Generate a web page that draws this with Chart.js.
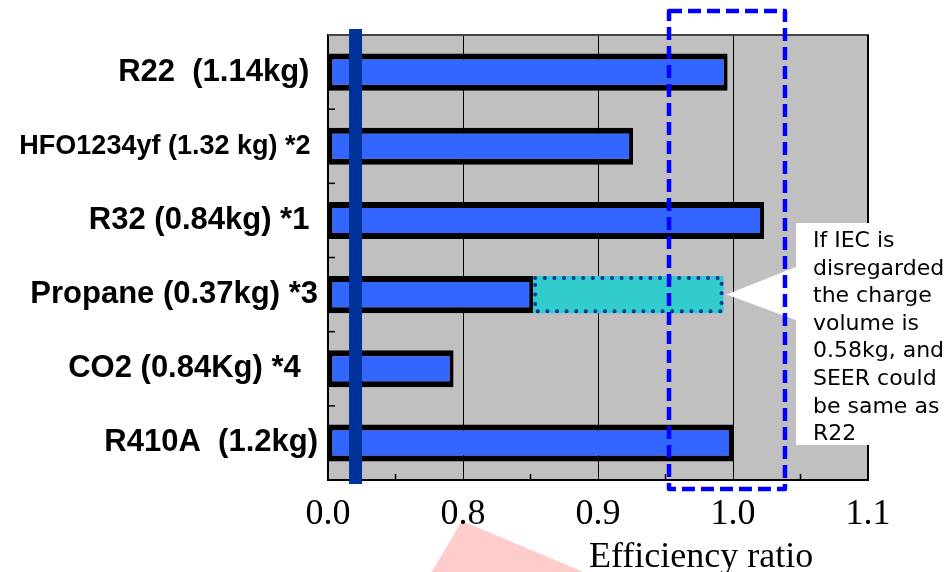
<!DOCTYPE html>
<html>
<head>
<meta charset="utf-8">
<script src="https://cdn.jsdelivr.net/npm/chart.js@4.4.1/dist/chart.umd.min.js"></script>
<style>
  html, body { margin: 0; padding: 0; background: #fff; }
  canvas { display: block; }
</style>
</head>
<body>
<canvas id="myChart" width="951" height="572"></canvas>
<script>
// refrigerants (trailing spaces keep the original right-edge offsets)
const refrigerants = [
    'R22  (1.14kg) ',
    'HFO1234yf (1.32 kg) *2 ',
    'R32 (0.84kg) *1 ',
    'Propane (0.37kg) *3',
    'CO2 (0.84Kg) *4  ',
    'R410A  (1.2kg)'
];
// efficiency ratio per refrigerant
const efficiency = [0.996, 0.926, 1.023, 0.852, 0.793, 1.0];
// propane range if the IEC charge limit is ignored
const propaneIecIgnored = [0.852, 0.993];
// broken axis: first tick stands for 0.0
const axisTicks = [0.7, 0.8, 0.9, 1.0, 1.1];
const axisTickLabels = ['0.0', '0.8', '0.9', '1.0', '1.1'];
// axis break marker and highlighted band
const breakMarkAt = 0.7204;
const highlightBand = [0.9526, 1.0385];

const calloutLines = [
    'If IEC is',
    'disregarded',
    'the charge',
    'volume is',
    '0.58kg, and',
    'SEER could',
    'be same as',
    'R22'
];

const extension = refrigerants.map((_, i) => i === 3 ? propaneIecIgnored : null);

const decorations = {
    id: 'decorations',
    beforeDraw(chart) {
        const { ctx, chartArea: a, scales: { x } } = chart;
        ctx.save();
        // pink pointer below the axis
        const px = x.getPixelForValue(0.8) - 1;
        const py = a.bottom + 41;
        ctx.fillStyle = '#FFCCCC';
        ctx.beginPath();
        ctx.moveTo(px, py);
        ctx.lineTo(px + 124, py + 52);
        ctx.lineTo(px - 31, py + 52);
        ctx.closePath();
        ctx.fill();
        // plot background
        ctx.fillStyle = '#C0C0C0';
        ctx.fillRect(a.left, a.top, a.right - a.left, a.bottom - a.top);
        ctx.restore();
    },
    beforeDatasetsDraw(chart) {
        const { ctx, chartArea: a, scales: { x, y } } = chart;
        ctx.save();
        // top border
        ctx.strokeStyle = '#444';
        ctx.lineWidth = 2;
        ctx.beginPath();
        ctx.moveTo(a.left, a.top);
        ctx.lineTo(a.right + 1, a.top);
        ctx.stroke();
        ctx.strokeStyle = '#000';
        ctx.beginPath();
        ctx.moveTo(a.right, a.top);
        ctx.lineTo(a.right, a.bottom);
        ctx.stroke();
        // inner tick marks
        ctx.lineWidth = 1.5;
        for (let i = 1; i < refrigerants.length; i++) {
            const yb = (y.getPixelForValue(i - 1) + y.getPixelForValue(i)) / 2;
            ctx.beginPath();
            ctx.moveTo(a.left, yb);
            ctx.lineTo(a.left + 7, yb);
            ctx.stroke();
        }
        for (let i = 1; i < axisTicks.length; i++) {
            const xm = x.getPixelForValue((axisTicks[i - 1] + axisTicks[i]) / 2);
            ctx.beginPath();
            ctx.moveTo(xm, a.bottom);
            ctx.lineTo(xm, a.bottom - 6);
            ctx.stroke();
        }
        ctx.restore();
    },
    afterDatasetsDraw(chart) {
        const { ctx, chartArea: a, scales: { x, y } } = chart;
        ctx.save();

        // dotted outline of the propane extension
        const el = chart.getDatasetMeta(1).data[3];
        const { x: right, base: left, y: cy, height: h } = el.getProps(['x', 'base', 'y', 'height'], true);
        ctx.strokeStyle = '#003399';
        ctx.lineWidth = 4;
        ctx.lineCap = 'round';
        ctx.setLineDash([0, 9.6]);
        ctx.strokeRect(left + 2, cy - h / 2 + 2, right - left - 4, h - 4);
        ctx.setLineDash([]);

        // callout box with pointer
        const tipX = right + 3;
        const boxL = 796, boxT = 223, boxB = 445;
        ctx.fillStyle = '#fff';
        ctx.beginPath();
        ctx.moveTo(tipX, cy);
        ctx.lineTo(boxL + 1, cy - 28);
        ctx.lineTo(boxL + 1, cy + 26);
        ctx.closePath();
        ctx.fill();
        ctx.fillRect(boxL, boxT, chart.width - boxL, boxB - boxT);
        ctx.fillStyle = '#000';
        ctx.font = '22px "DejaVu Sans", Verdana, sans-serif';
        ctx.textAlign = 'left';
        ctx.textBaseline = 'alphabetic';
        calloutLines.forEach((line, i) => ctx.fillText(line, 813, 247 + i * 27.6));

        // axis break marker
        const bx = x.getPixelForValue(breakMarkAt);
        ctx.fillStyle = '#003399';
        ctx.fillRect(bx - 6.5, a.top - 6, 13, a.bottom - a.top + 10);

        // dashed highlight band
        const x1 = x.getPixelForValue(highlightBand[0]);
        const x2 = x.getPixelForValue(highlightBand[1]);
        ctx.strokeStyle = '#0000FF';
        ctx.lineWidth = 4.5;
        ctx.lineCap = 'butt';
        ctx.lineJoin = 'round';
        ctx.setLineDash([13, 6]);
        ctx.strokeRect(x1, a.top - 24, x2 - x1, a.bottom - a.top + 33);
        ctx.restore();
    },
    afterDraw(chart) {
        const { ctx } = chart;
        ctx.save();
        ctx.fillStyle = '#000';
        ctx.font = '36px "Liberation Serif", "Times New Roman", serif';
        ctx.textAlign = 'left';
        ctx.textBaseline = 'alphabetic';
        ctx.fillText('Efficiency ratio', 589, 567);
        ctx.restore();
    }
};

const ctx = document.getElementById('myChart');
new Chart(ctx, {
    type: 'bar',
    data: {
        labels: refrigerants,
        datasets: [
            {
                data: efficiency,
                base: 0.7,
                backgroundColor: '#3366FF',
                borderColor: '#000',
                borderWidth: { top: 6, bottom: 6, left: 4, right: 4 },
                borderSkipped: false,
                barPercentage: 0.5,
                categoryPercentage: 1,
                grouped: false
            },
            {
                data: extension,
                backgroundColor: '#33CCCC',
                borderWidth: 0,
                barPercentage: 0.5,
                categoryPercentage: 1,
                grouped: false
            }
        ]
    },
    options: {
        indexAxis: 'y',
        responsive: false,
        animation: false,
        layout: { padding: { top: 35, right: 83, left: 0, bottom: 0 } },
        plugins: {
            legend: { display: false },
            tooltip: { enabled: false }
        },
        scales: {
            x: {
                type: 'linear',
                min: axisTicks[0],
                max: axisTicks[axisTicks.length - 1],
                afterBuildTicks: scale => {
                    scale.ticks = axisTicks.map(v => ({ value: v }));
                },
                afterFit: scale => { scale.height = 92; },
                grid: { color: '#000', lineWidth: 1, drawTicks: false },
                border: { display: true, color: '#000', width: 2 },
                ticks: {
                    padding: 13,
                    color: '#000',
                    font: { family: '"Liberation Serif", "Times New Roman", serif', size: 36 },
                    callback: (value, index) => axisTickLabels[index]
                }
            },
            y: {
                afterFit: scale => { scale.width = 328; },
                grid: { drawOnChartArea: false, drawTicks: false },
                border: { display: true, color: '#000', width: 2 },
                ticks: {
                    padding: 10,
                    color: '#000',
                    font: ctx => ({
                        family: '"Liberation Sans", Arial, sans-serif',
                        weight: 'bold',
                        size: ctx.index === 1 ? 27 : 31
                    })
                }
            }
        }
    },
    plugins: [decorations]
});
</script>
</body>
</html>
